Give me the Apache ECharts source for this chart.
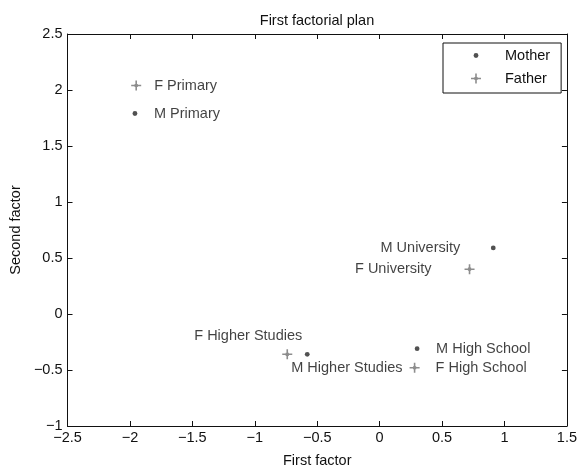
<!DOCTYPE html>
<html>
<head>
<meta charset="utf-8">
<script src="https://cdn.jsdelivr.net/npm/echarts@6/dist/echarts.min.js"></script>
<style>
  html, body { margin: 0; padding: 0; background: #fff; }
  #chart { width: 580px; height: 473px; }
</style>
</head>
<body>
<div id="chart"></div>
<script>
// Factor scores of the parents' education levels on the first factorial plan
const motherNames = ['M Primary', 'M University', 'M Higher Studies', 'M High School'];
const motherX = [-1.96, 0.91, -0.58, 0.30];
const motherY = [1.79, 0.59, -0.36, -0.31];

const fatherNames = ['F Primary', 'F University', 'F Higher Studies', 'F High School'];
const fatherX = [-1.95, 0.72, -0.74, 0.28];
const fatherY = [2.04, 0.40, -0.36, -0.48];

const xTicks = [-2.5, -2, -1.5, -1, -0.5, 0, 0.5, 1, 1.5];
const yTicks = [-1, -0.5, 0, 0.5, 1, 1.5, 2, 2.5];

// Where each point's text sits relative to its marker: [dx, dy, align]
const labelPlacement = {
  'M Primary': [19, 0, 'left'],
  'F Primary': [18, 0, 'left'],
  'M University': [-33, 0, 'right'],
  'F University': [-38, 0, 'right'],
  'F Higher Studies': [15, -18, 'right'],
  'M Higher Studies': [-16, 14, 'left'],
  'M High School': [19, 0, 'left'],
  'F High School': [21, 0, 'left']
};

const FONT = 'Liberation Sans, Arial, sans-serif';
const FS = 14.5;
const INK = '#111';

// Both markers share a 10x10 frame so plot and legend scale them alike
const dotSymbol = 'path://M0,0 M10,10 M2.6,5 A2.4,2.4 0 1 1 7.4,5 A2.4,2.4 0 1 1 2.6,5 Z';
const starSymbol = 'path://M4.2,0 L5.8,0 L5.8,3.4 L6.6,3.4 L6.6,4.2 L10,4.2 L10,5.8 L6.6,5.8 L6.6,6.6 L5.8,6.6 L5.8,10 L4.2,10 L4.2,6.6 L3.4,6.6 L3.4,5.8 L0,5.8 L0,4.2 L3.4,4.2 L3.4,3.4 L4.2,3.4 Z';

function buildPoints(names, xs, ys) {
  return names.map((name, i) => {
    const p = labelPlacement[name];
    return {
      name: name,
      value: [xs[i], ys[i]],
      label: {
        show: true,
        formatter: name,
        position: 'inside',
        align: p[2],
        verticalAlign: 'middle',
        offset: [p[0], p[1]],
        color: INK,
        fontFamily: FONT,
        fontSize: FS
      }
    };
  });
}

const minus = v => String(v).replace('-', '\u2212');
const tickSet = arr => v => arr.some(t => Math.abs(t - v) < 1e-9) ? minus(v) : '';

const axisLine = { show: true, onZero: false, lineStyle: { color: INK, width: 1 } };
const axisTick = { show: true, inside: true, length: 5, lineStyle: { color: INK } };

const chart = echarts.init(document.getElementById('chart'), null, { renderer: 'canvas' });
chart.setOption({
  animation: false,
  backgroundColor: '#fff',
  title: {
    text: 'First factorial plan',
    left: 312,
    top: 8,
    textAlign: 'center',
    textStyle: { fontFamily: FONT, fontSize: FS, fontWeight: 'normal', color: INK }
  },
  grid: { left: 62, right: 12, top: 34, bottom: 41 },
  legend: {
    orient: 'vertical',
    left: 443,
    top: 43,
    itemWidth: 48,
    itemHeight: 10,
    itemGap: 8,
    padding: [5, 11, 7, 28],
    borderColor: INK,
    borderWidth: 1,
    backgroundColor: '#fff',
    textStyle: { fontFamily: FONT, fontSize: FS, color: INK },
    data: ['Mother', 'Father']
  },
  xAxis: [{
    type: 'value',
    min: -2.5, max: 1.5, interval: 0.5,
    name: 'First factor',
    nameLocation: 'middle',
    nameGap: 27,
    nameTextStyle: { fontFamily: FONT, fontSize: FS, color: INK },
    axisLine: axisLine,
    axisTick: axisTick,
    axisLabel: { formatter: tickSet(xTicks), fontFamily: FONT, fontSize: FS, color: INK, margin: 4 },
    splitLine: { show: false }
  }, {
    type: 'value',
    position: 'top',
    min: -2.5, max: 1.5, interval: 0.5,
    axisLine: axisLine,
    axisTick: axisTick,
    axisLabel: { show: false },
    splitLine: { show: false }
  }],
  yAxis: [{
    type: 'value',
    min: -1, max: 2.5, interval: 0.5,
    name: 'Second factor',
    nameLocation: 'middle',
    nameGap: 41,
    nameTextStyle: { fontFamily: FONT, fontSize: FS, color: INK },
    axisLine: axisLine,
    axisTick: axisTick,
    axisLabel: { formatter: tickSet(yTicks), fontFamily: FONT, fontSize: FS, color: INK, margin: 5 },
    splitLine: { show: false }
  }, {
    type: 'value',
    position: 'right',
    min: -1, max: 2.5, interval: 0.5,
    axisLine: axisLine,
    axisTick: axisTick,
    axisLabel: { show: false },
    splitLine: { show: false }
  }],
  series: [{
    name: 'Mother',
    type: 'scatter',
    symbol: dotSymbol,
    symbolSize: 10,
    itemStyle: { color: '#262626' },
    data: buildPoints(motherNames, motherX, motherY)
  }, {
    name: 'Father',
    type: 'scatter',
    symbol: starSymbol,
    symbolSize: 10,
    itemStyle: { color: '#707070' },
    data: buildPoints(fatherNames, fatherX, fatherY)
  }]
});
</script>
</body>
</html>
